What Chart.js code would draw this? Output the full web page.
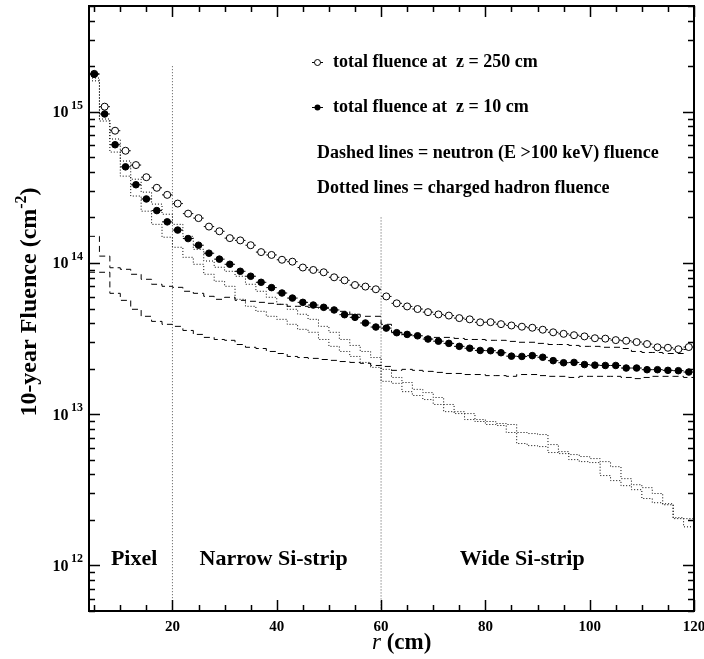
<!DOCTYPE html>
<html>
<head>
<meta charset="utf-8">
<script src="https://cdn.jsdelivr.net/npm/chart.js@4.4.0/dist/chart.umd.min.js"></script>
<style>
  html, body { margin: 0; padding: 0; background: #fff; }
  #wrap { width: 704px; height: 659px; }
</style>
</head>
<body>
<div id="wrap"><canvas id="fluenceChart" width="704" height="659"></canvas></div>
<script>
// bin centres in r (cm), 2 cm wide bins from 4 to 120
const binCenters = [5, 7, 9, 11, 13, 15, 17, 19, 21, 23, 25, 27, 29, 31, 33, 35, 37, 39, 41, 43,
  45, 47, 49, 51, 53, 55, 57, 59, 61, 63, 65, 67, 69, 71, 73, 75, 77, 79, 81, 83,
  85, 87, 89, 91, 93, 95, 97, 99, 101, 103, 105, 107, 109, 111, 113, 115, 117, 119];

// total fluence, open circles (z = 250 cm)
const totalZ250 = [1.78e15, 1.08e15, 7.49e14, 5.52e14, 4.44e14, 3.69e14, 3.14e14, 2.82e14, 2.47e14, 2.12e14,
  1.98e14, 1.74e14, 1.62e14, 1.46e14, 1.41e14, 1.31e14, 1.18e14, 1.13e14, 1.05e14, 1.02e14,
  9.33e13, 8.99e13, 8.68e13, 8.04e13, 7.68e13, 7.15e13, 6.98e13, 6.70e13, 6.01e13, 5.41e13,
  5.16e13, 4.96e13, 4.73e13, 4.57e13, 4.49e13, 4.32e13, 4.24e13, 4.05e13, 4.06e13, 3.94e13,
  3.86e13, 3.79e13, 3.73e13, 3.62e13, 3.48e13, 3.40e13, 3.33e13, 3.27e13, 3.18e13, 3.16e13,
  3.09e13, 3.06e13, 3.00e13, 2.91e13, 2.77e13, 2.75e13, 2.69e13, 2.78e13];

// total fluence, filled circles (z = 10 cm)
const totalZ10 = [1.77e15, 9.66e14, 6.05e14, 4.32e14, 3.29e14, 2.65e14, 2.22e14, 1.87e14, 1.65e14, 1.45e14,
  1.31e14, 1.16e14, 1.06e14, 9.80e13, 8.81e13, 8.17e13, 7.45e13, 6.87e13, 6.33e13, 5.86e13,
  5.49e13, 5.27e13, 5.09e13, 4.89e13, 4.55e13, 4.37e13, 4.01e13, 3.77e13, 3.71e13, 3.46e13,
  3.37e13, 3.30e13, 3.14e13, 3.04e13, 2.94e13, 2.81e13, 2.73e13, 2.64e13, 2.63e13, 2.55e13,
  2.42e13, 2.41e13, 2.44e13, 2.38e13, 2.26e13, 2.19e13, 2.20e13, 2.13e13, 2.11e13, 2.10e13,
  2.10e13, 2.02e13, 2.02e13, 1.97e13, 1.97e13, 1.95e13, 1.94e13, 1.90e13];

// neutron (E > 100 keV) fluence, dashed histograms
const neutronUpper = [1.50e14, 1.11e14, 9.30e13, 9.08e13, 8.42e13, 7.80e13, 7.23e13, 7.01e13, 6.90e13, 6.50e13,
  6.30e13, 6.02e13, 5.75e13, 5.93e13, 5.66e13, 5.58e13, 5.49e13, 5.41e13, 5.33e13, 5.17e13,
  5.17e13, 5.09e13, 5.01e13, 4.86e13, 4.79e13, 4.58e13, 4.44e13, 4.44e13, 3.93e13, 3.48e13,
  3.32e13, 3.27e13, 3.22e13, 3.22e13, 3.22e13, 3.17e13, 3.12e13, 3.12e13, 3.08e13, 3.08e13,
  3.03e13, 2.99e13, 2.99e13, 2.94e13, 2.89e13, 2.89e13, 2.85e13, 2.81e13, 2.81e13, 2.77e13,
  2.77e13, 2.72e13, 2.60e13, 2.56e13, 2.56e13, 2.52e13, 2.52e13, 2.68e13];
const neutronLower = [8.68e13, 8.68e13, 6.30e13, 5.66e13, 4.94e13, 4.44e13, 4.11e13, 3.93e13, 3.81e13, 3.58e13,
  3.37e13, 3.22e13, 3.12e13, 3.08e13, 2.89e13, 2.77e13, 2.72e13, 2.60e13, 2.52e13, 2.41e13,
  2.37e13, 2.34e13, 2.30e13, 2.27e13, 2.23e13, 2.20e13, 2.17e13, 2.10e13, 2.07e13, 1.95e13,
  1.98e13, 1.95e13, 1.92e13, 1.89e13, 1.86e13, 1.86e13, 1.83e13, 1.83e13, 1.80e13, 1.80e13,
  1.78e13, 1.83e13, 1.83e13, 1.80e13, 1.78e13, 1.78e13, 1.75e13, 1.78e13, 1.78e13, 1.78e13,
  1.78e13, 1.75e13, 1.72e13, 1.75e13, 1.78e13, 1.78e13, 1.78e13, 1.75e13];

// charged hadron fluence, dotted histograms
const chargedUpper = [1.67e15, 8.95e14, 6.60e14, 4.72e14, 3.58e14, 2.94e14, 2.45e14, 2.10e14, 1.80e14, 1.50e14,
  1.23e14, 1.03e14, 9.37e13, 8.81e13, 8.17e13, 7.23e13, 6.50e13, 5.93e13, 5.33e13, 4.94e13,
  4.58e13, 4.24e13, 3.81e13, 3.48e13, 3.12e13, 2.85e13, 2.60e13, 2.37e13, 1.98e13, 1.75e13,
  1.62e13, 1.46e13, 1.39e13, 1.29e13, 1.16e13, 1.04e13, 1.01e13, 9.22e12, 8.95e12, 8.68e12,
  8.55e12, 7.57e12, 7.45e12, 7.34e12, 6.30e12, 5.66e12, 5.41e12, 5.25e12, 5.09e12, 4.86e12,
  4.50e12, 3.75e12, 3.42e12, 3.27e12, 2.99e12, 2.52e12, 2.07e12, 2.04e12];
const chargedLower = [1.60e15, 8.68e14, 5.41e14, 3.75e14, 2.77e14, 2.20e14, 1.80e14, 1.48e14, 1.27e14, 1.09e14,
  9.80e13, 8.42e13, 7.57e13, 7.01e13, 5.75e13, 5.17e13, 4.79e13, 4.44e13, 4.24e13, 3.93e13,
  3.64e13, 3.48e13, 3.12e13, 2.81e13, 2.60e13, 2.41e13, 2.20e13, 2.04e13, 1.65e13, 1.60e13,
  1.41e13, 1.33e13, 1.25e13, 1.16e13, 1.04e13, 1.01e13, 9.22e12, 8.95e12, 8.55e12, 8.42e12,
  7.57e12, 6.40e12, 6.20e12, 6.11e12, 5.58e12, 5.49e12, 5.01e12, 4.86e12, 4.79e12, 3.93e12,
  3.64e12, 3.37e12, 3.17e12, 2.77e12, 2.60e12, 2.56e12, 2.04e12, 1.80e12];

// detector region boundaries and where their marker lines start
const regionEdges = [20, 60];
const regionLineTop = [2.0e15, 2.0e14];
const regionNames = ['Pixel', 'Narrow Si-strip', 'Wide Si-strip'];
const regionLabelR = [8.2, 25.2, 75.1];

const xTickLabels = [20, 40, 60, 80, 100, 120];
const yDecades = [12, 13, 14, 15];

const SERIF = '"Liberation Serif", "Times New Roman", serif';

function pointsOf(vals) {
  return binCenters.map((c, i) => ({ x: c, y: vals[i] }));
}

// horizontal x-error bars (bin width) for the marker series
function barsOf(vals) {
  const pts = [];
  binCenters.forEach((c, i) => {
    pts.push({ x: c - 1, y: vals[i] }, { x: c + 1, y: vals[i] }, { x: c + 1, y: null });
  });
  return pts;
}

// histogram drawn as steps over the bin edges
function stepsOf(vals) {
  const pts = binCenters.map((c, i) => ({ x: c - 1, y: vals[i] }));
  pts.push({ x: binCenters[binCenters.length - 1] + 1, y: vals[vals.length - 1] });
  return pts;
}

function histDataset(vals, dash) {
  return {
    data: stepsOf(vals), stepped: 'before', borderColor: '#000', borderWidth: 1,
    borderDash: dash, pointRadius: 0, fill: false, order: 3
  };
}

const regionDatasets = regionEdges.map((r, i) => ({
  data: [{ x: r, y: regionLineTop[i] }, { x: r, y: 5e11 }],
  borderColor: '#555', borderWidth: 1, borderDash: [1, 2], pointRadius: 0, order: 4
}));

const rootFrame = {
  id: 'rootFrame',
  afterDatasetsDraw(chart) {
    const { ctx, chartArea: a, scales: { x, y } } = chart;
    ctx.save();
    ctx.strokeStyle = '#000';
    ctx.fillStyle = '#000';

    // tick marks on all four sides, pointing inward
    ctx.lineWidth = 1.5;
    ctx.beginPath();
    for (let r = 5; r <= 120; r += 5) {
      const px = Math.round(x.getPixelForValue(r)) + 0.5;
      const len = r % 20 === 0 ? 11 : 6;
      ctx.moveTo(px, a.bottom); ctx.lineTo(px, a.bottom - len);
      ctx.moveTo(px, a.top); ctx.lineTo(px, a.top + len);
    }
    for (let e = 11; e <= 15; e++) {
      for (let m = 1; m <= 9; m++) {
        const v = m * Math.pow(10, e);
        if (v < y.min || v > y.max) continue;
        const py = Math.round(y.getPixelForValue(v)) + 0.5;
        const len = m === 1 ? 11 : 6;
        ctx.moveTo(a.left, py); ctx.lineTo(a.left + len, py);
        ctx.moveTo(a.right, py); ctx.lineTo(a.right - len, py);
      }
    }
    ctx.stroke();
    ctx.lineWidth = 2;
    ctx.strokeRect(a.left, a.top, a.right - a.left, a.bottom - a.top);

    // x tick labels
    ctx.font = `bold 15px ${SERIF}`;
    ctx.textAlign = 'center';
    ctx.textBaseline = 'alphabetic';
    xTickLabels.forEach(v => ctx.fillText(String(v), x.getPixelForValue(v), a.bottom + 20));

    // y tick labels 10^n
    yDecades.forEach(e => {
      const py = y.getPixelForValue(Math.pow(10, e));
      ctx.font = `bold 16px ${SERIF}`;
      ctx.textAlign = 'right';
      ctx.fillText('10', 68.5, py + 5.5);
      ctx.font = `bold 12px ${SERIF}`;
      ctx.textAlign = 'left';
      ctx.fillText(String(e), 71, py - 3);
    });

    // x title: r (cm)
    ctx.textAlign = 'left';
    ctx.font = `italic 23px ${SERIF}`;
    ctx.fillText('r', 372, 649);
    const rw = ctx.measureText('r').width;
    ctx.font = `bold 23px ${SERIF}`;
    ctx.fillText(' (cm)', 372 + rw, 649);

    // y title: 10-year Fluence (cm^-2)
    ctx.save();
    ctx.translate(36, 302);
    ctx.rotate(-Math.PI / 2);
    ctx.font = `bold 24px ${SERIF}`;
    const main = '10-year Fluence (cm';
    const wMain = ctx.measureText(main).width;
    const wClose = ctx.measureText(')').width;
    ctx.font = `bold 16px ${SERIF}`;
    const wSup = ctx.measureText('-2').width;
    let tx = -(wMain + wSup + wClose) / 2;
    ctx.font = `bold 24px ${SERIF}`;
    ctx.fillText(main, tx, 0);
    tx += wMain;
    ctx.font = `bold 16px ${SERIF}`;
    ctx.fillText('-2', tx, -10);
    tx += wSup;
    ctx.font = `bold 24px ${SERIF}`;
    ctx.fillText(')', tx, 0);
    ctx.restore();

    // legend
    ctx.lineWidth = 1;
    ctx.beginPath();
    ctx.moveTo(312, 62.5); ctx.lineTo(323, 62.5);
    ctx.moveTo(312, 107.5); ctx.lineTo(323, 107.5);
    ctx.stroke();
    ctx.beginPath();
    ctx.arc(317.5, 62.5, 3, 0, Math.PI * 2);
    ctx.fillStyle = '#fff'; ctx.fill(); ctx.stroke();
    ctx.beginPath();
    ctx.arc(317.5, 107.5, 3, 0, Math.PI * 2);
    ctx.fillStyle = '#000'; ctx.fill();
    ctx.font = `bold 18px ${SERIF}`;
    ctx.fillText('total fluence at  z = 250 cm', 333, 67);
    ctx.fillText('total fluence at  z = 10 cm', 333, 112);
    ctx.fillText('Dashed lines = neutron (E >100 keV) fluence', 317, 158);
    ctx.fillText('Dotted lines = charged hadron fluence', 317, 193);

    // region labels
    ctx.font = `bold 22px ${SERIF}`;
    regionNames.forEach((name, i) => {
      ctx.fillText(name, x.getPixelForValue(regionLabelR[i]), 565);
    });
    ctx.restore();
  }
};

new Chart(document.getElementById('fluenceChart'), {
  type: 'line',
  data: {
    datasets: [
      {
        data: pointsOf(totalZ10), showLine: false, pointRadius: 3.3, pointHoverRadius: 3.3,
        pointBackgroundColor: '#000', pointBorderColor: '#000', pointBorderWidth: 1, order: 0
      },
      {
        data: pointsOf(totalZ250), showLine: false, pointRadius: 3.5, pointHoverRadius: 3.5,
        pointBackgroundColor: '#fff', pointBorderColor: '#000', pointBorderWidth: 1, order: 1
      },
      { data: barsOf(totalZ10), borderColor: '#000', borderWidth: 1, pointRadius: 0, order: 2 },
      { data: barsOf(totalZ250), borderColor: '#000', borderWidth: 1, pointRadius: 0, order: 2 },
      histDataset(neutronUpper, [6, 4]),
      histDataset(neutronLower, [6, 4]),
      histDataset(chargedUpper, [1, 2]),
      histDataset(chargedLower, [1, 2]),
      ...regionDatasets
    ]
  },
  options: {
    responsive: false,
    animation: false,
    events: [],
    layout: { padding: { left: 0, right: 10, top: 6, bottom: 0 } },
    plugins: { legend: { display: false }, tooltip: { enabled: false } },
    scales: {
      x: {
        type: 'linear', min: 4, max: 120,
        grid: { display: false }, border: { display: false },
        ticks: { display: false },
        afterFit(s) { s.height = 48; }
      },
      y: {
        type: 'logarithmic', min: 5e11, max: 5e15,
        grid: { display: false }, border: { display: false },
        ticks: { display: false },
        afterFit(s) { s.width = 89; }
      }
    }
  },
  plugins: [rootFrame]
});
</script>
</body>
</html>
